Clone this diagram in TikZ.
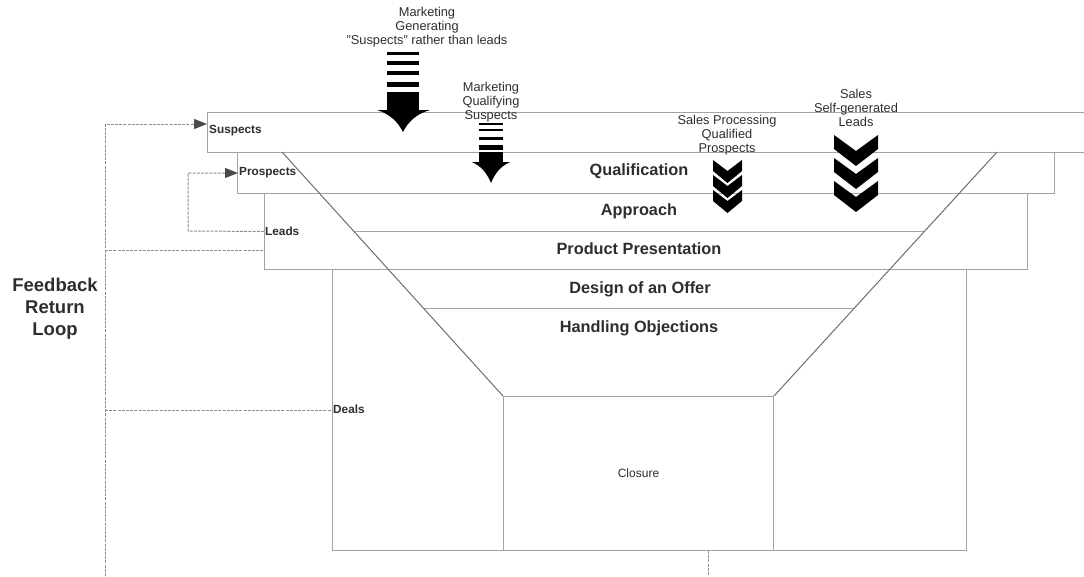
\documentclass[tikz,border=0pt]{standalone}
\usepackage{fontspec}
\setmainfont{Liberation Sans}
\usetikzlibrary{arrows.meta,calc}

\definecolor{boxline}{HTML}{A4A4A4}
\definecolor{funnelline}{HTML}{6E6E6E}
\definecolor{dashline}{HTML}{8E8E8E}
\definecolor{tiptone}{HTML}{4A4A4A}
\definecolor{ink}{HTML}{2E2E2E}

\tikzset{
  stagebox/.style={draw=boxline, line width=1pt, fill=white, inner sep=0pt, anchor=north west},
  funnel/.style={draw=funnelline, line width=1pt},
  divider/.style={draw=boxline, line width=1pt},
  stagename/.style={font=\fontsize{16.3}{18}\selectfont\bfseries, text=ink, inner sep=0pt},
  tag/.style={font=\fontsize{11.8}{13}\selectfont\bfseries, text=ink, inner sep=1pt, anchor=west},
  note/.style={font=\fontsize{12.8}{14.3}\selectfont, text=ink, align=center, inner sep=0pt},
  fb/.style={draw=dashline, line width=1pt, dash pattern=on 3pt off 1.2pt},
  fbarrow/.style={fb, -{Triangle[length=13pt,width=10pt,fill=tiptone,color=tiptone]}},
}

\begin{document}
\begin{tikzpicture}[x=1pt,y=-1pt]
\useasboundingbox (0,0) rectangle (1084,576);

% stage boxes, top to bottom
\node[stagebox, minimum width=882pt, minimum height=40pt] (suspects) at (207,112) {};
\node[stagebox, minimum width=817pt, minimum height=41pt] (prospects) at (237,152) {};
\node[stagebox, minimum width=763pt, minimum height=76pt] (leads) at (264,193) {};
\node[stagebox, minimum width=634pt, minimum height=281pt] (deals) at (332,269) {};
\node[stagebox, minimum width=270pt, minimum height=154pt] (closure) at (503,396) {};

% funnel edges
\coordinate (fl) at (282,152);
\coordinate (fr) at (997,152);
\draw[divider] ($(fl)!0.3238!(closure.north west)$) -- ($(fr)!0.3238!(closure.north east)$);
\draw[divider] ($(fl)!0.6434!(closure.north west)$) -- ($(fr)!0.6434!(closure.north east)$);
\draw[funnel] (fl) -- (closure.north west);
\draw[funnel] (fr) -- (closure.north east);

% stage names
\node[stagename] (qual) at (639,171) {Qualification};
\node[stagename] (appr) at (639,211) {Approach};
\node[stagename] (pres) at (639,249) {Product Presentation};
\node[stagename] (offer) at (640,289) {Design of an Offer};
\node[stagename] (objections) at (639,328) {Handling Objections};
\node[font=\fontsize{12}{14}\selectfont, text=ink] (close) at (closure.center) {Closure};

% funnel level tags
\node[tag] (tSuspects) at (208,131) {Suspects};
\node[tag] (tProspects) at (238,173) {Prospects};
\node[tag] (tLeads) at (264,231) {Leads};
\node[tag] (tDeals) at (332,409) {Deals};

\node[font=\fontsize{18.5}{22}\selectfont\bfseries, text=ink, align=center] (loop) at (55,309) {Feedback\\Return\\Loop};

% feedback connectors
\coordinate (loopbase) at (105,576);
\coordinate (closeout) at ([xshift=70pt]closure.south);
\coordinate (closeend) at (closeout |- loopbase);
\coordinate (suspectsIn) at ([yshift=-12pt]suspects.north west);
\coordinate (leadsOut) at ([yshift=-19pt]leads.west);
\coordinate (inner) at (188,231);
\draw[fbarrow] (loopbase) |- (suspectsIn);
\draw[fb] (loopbase |- leadsOut) -- (leadsOut);
\draw[fb] (loopbase |- deals.west) -- (deals.west);
\draw[fb] (closure.south -| closeout) -- (closeend);
\draw[fbarrow] (leads.west) -- (inner) |- (tProspects.west);

% annotations
\node[note] (mgen) at (427,27) {Marketing\\Generating\\"Suspects" rather than leads};
\node[note] (mqual) at (491,102) {Marketing\\Qualifying\\Suspects};
\node[note] (sproc) at (727,135) {Sales Processing\\Qualified\\Prospects};
\node[note] (sself) at (856,108) {Sales\\Self-generated\\Leads};

% striped block arrow: marketing generating suspects
\begin{scope}[fill=black]
  \fill (387,52) rectangle (419,55);
  \fill (387,61) rectangle (419,64.5);
  \fill (387,71) rectangle (419,75);
  \fill (387,82) rectangle (419,87);
  \fill (387,92) rectangle (419,111);
  \fill (377,110) -- (430,110) .. controls (416,114) and (408,122) .. (403,132)
        .. controls (398,122) and (390,114) .. (377,110) -- cycle;
\end{scope}

% striped block arrow: marketing qualifying suspects
\begin{scope}[fill=black]
  \fill (479,122.5) rectangle (503,124.5);
  \fill (479,129) rectangle (503,131);
  \fill (479,137) rectangle (503,140);
  \fill (479,145) rectangle (503,150);
  \fill (479,152) rectangle (503,163);
  \fill (472,162) -- (510,162) .. controls (501,166) and (495,173) .. (491,183)
        .. controls (487,173) and (481,166) .. (472,162) -- cycle;
\end{scope}

% chevron stacks
\foreach \t in {160,175,190}
  \fill[black] (713,\t) -- (727.5,\t+11) -- (742,\t) -- (742,\t+11) -- (727.5,\t+23) -- (713,\t+11) -- cycle;
\foreach \t in {135,158,181}
  \fill[black] (834,\t) -- (856,\t+16) -- (878,\t) -- (878,\t+14) -- (856,\t+31) -- (834,\t+14) -- cycle;

\end{tikzpicture}
\end{document}
